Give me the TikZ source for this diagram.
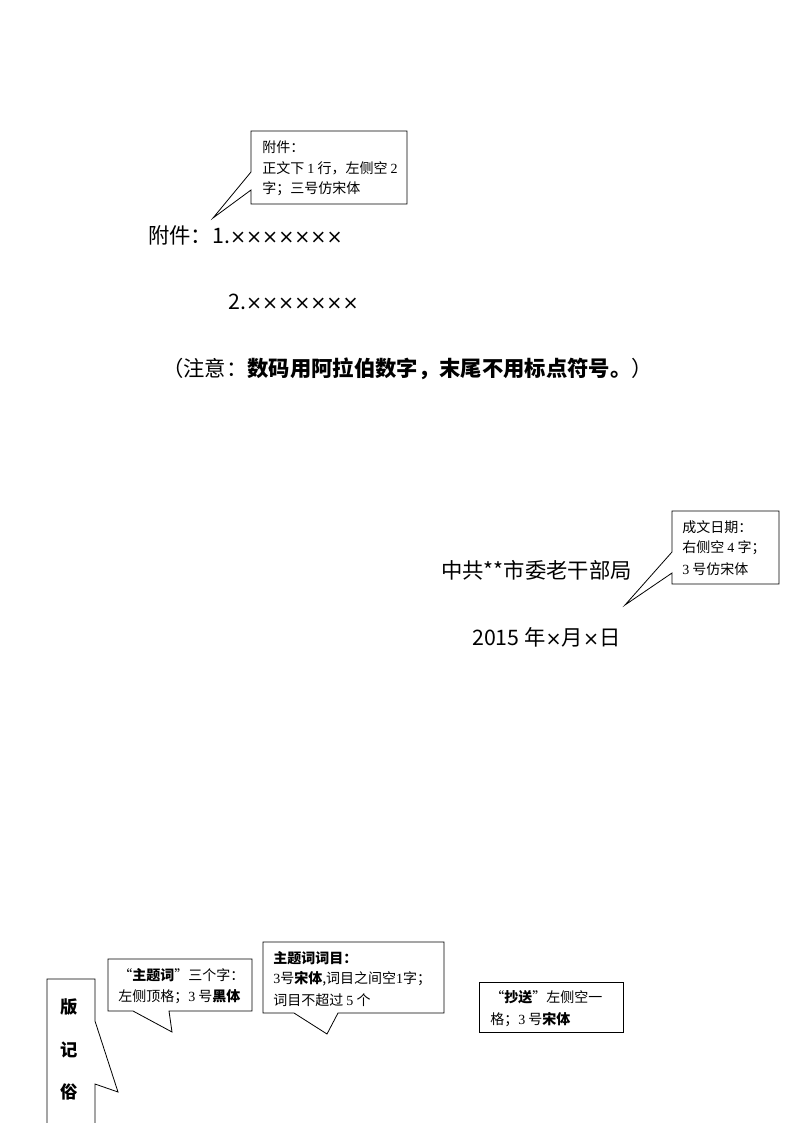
\documentclass[tikz,border=0pt]{standalone}
\usepackage{fontspec}
\newfontfamily\cjk{Noto Sans CJK SC}
\newfontfamily\serifd{Liberation Serif}
\newfontfamily\timesfont[Scale=0.9]{DejaVu Sans}
\newcommand\dg[1]{{\serifd #1}}
\newcommand\tm{{\timesfont ×}}
\begin{document}
\begin{tikzpicture}[x=0.75pt,y=-0.75pt,
  maintext/.style={font=\cjk\fontsize{16}{19}\selectfont, inner sep=0pt, anchor=west},
  note/.style={font=\cjk\fontsize{10.5}{15.75}\selectfont, inner sep=0pt, anchor=west},
  callout/.style={draw=black, line width=0.6pt, fill=white, line join=miter},
  vert/.style={font=\cjk\bfseries\fontsize{13}{15}\selectfont, inner sep=0pt}]
\useasboundingbox[fill=white] (0,0) rectangle (794,1123);

% main texts
\node[maintext] (fj) at (148,235) {附件：1.\tm\tm\tm\tm\tm\tm\tm};
\node[maintext] (fj2) at (228,302) {2.\tm\tm\tm\tm\tm\tm\tm};
\node[maintext] (zy) at (162,369) {（注意：\textbf{数码用阿拉伯数字，末尾不用标点符号。}）};
\node[maintext] (org) at (441,570) {中共**市委老干部局};
\node[maintext] (date) at (472,637) {2015 年\tm 月\tm 日};

% callout 1
\coordinate (t1) at (213,218);
\draw[callout] (251,131) -- (407,131) -- (407,204) -- (251,204) -- (251,190) -- (t1) -- (251,172) -- cycle;
\node[note] (c1a) at (262,147) {附件：};
\node[note] (c1b) at (262,168) {正文下 \dg{1} 行，左侧空 \dg{2}};
\node[note] (c1c) at (262,189) {字；三号仿宋体};

% callout 2
\coordinate (t2) at (625,605);
\draw[callout] (672,511) -- (779,511) -- (779,584) -- (672,584) -- (672,573) -- (t2) -- (672,552) -- cycle;
\node[note] (c2a) at (682,527) {成文日期：};
\node[note] (c2b) at (682,548) {右侧空 \dg{4} 字；};
\node[note] (c2c) at (682,569) {\dg{3} 号仿宋体};

% callout 3
\coordinate (t3) at (172,1032);
\draw[callout] (108,959) -- (252,959) -- (252,1011) -- (169,1011) -- (t3) -- (133,1011) -- (108,1011) -- cycle;
\node[note] (c3a) at (118,975) {“\textbf{主题词}”三个字：};
\node[note] (c3b) at (118,997) {左侧顶格；\dg{3} 号\textbf{黑体}};

% callout 4
\coordinate (t4) at (327,1034);
\draw[callout] (263,942) -- (444,942) -- (444,1013) -- (338,1013) -- (t4) -- (294,1013) -- (263,1013) -- cycle;
\node[note] (c4a) at (273,958) {\textbf{主题词词目：}};
\node[note] (c4b) at (273,979) {\dg{3}号\textbf{宋体},词目之间空\dg{1}字；};
\node[note] (c4c) at (273,1000) {词目不超过 \dg{5} 个};

% callout 5
\draw[callout] (479,982) rectangle (623,1032);
\node[note] (c5a) at (490,997) {“\textbf{抄送}”左侧空一};
\node[note] (c5b) at (490,1020) {格；\dg{3} 号\textbf{宋体}};

% banji
\coordinate (t5) at (118,1092);
\draw[callout] (47,1130) -- (47,979) -- (95,979) -- (95,1021) -- (t5) -- (95,1084) -- (95,1130);
\node[vert] (b1) at (69,1007) {版};
\node[vert] (b2) at (69,1050) {记};
\node[vert] (b3) at (69,1092) {俗};
\end{tikzpicture}
\end{document}
